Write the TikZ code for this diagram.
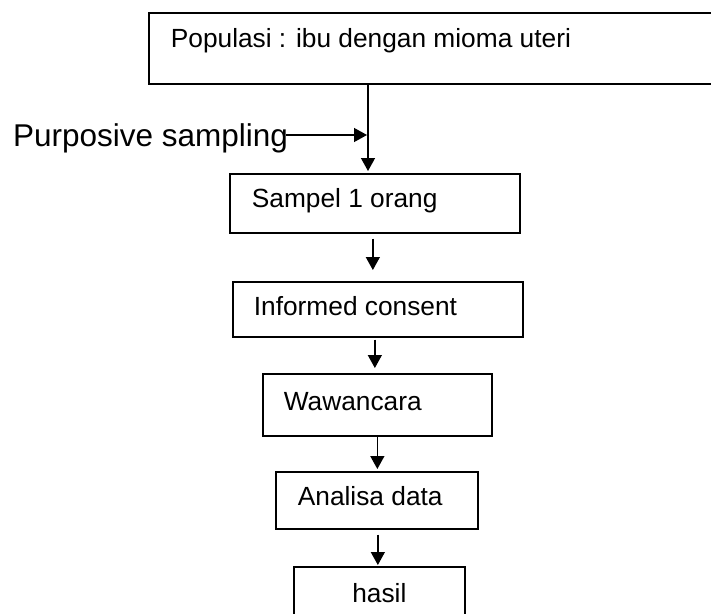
\documentclass[tikz,border=0pt]{standalone}
\usepackage{fontspec}
\setmainfont{Liberation Sans}
\usetikzlibrary{arrows.meta}
\begin{document}
\begin{tikzpicture}[x=1pt,y=-1pt,
    box/.style={draw, line width=1.7pt, inner ysep=0pt, inner xsep=22pt, align=flush left,
        anchor=north west, font=\fontsize{26.3}{30}\selectfont},
    arr/.style={line width=1.4pt, -{Triangle[length=13pt,width=14pt]}}]
    \useasboundingbox (0,0) rectangle (711,613);
    %Populasi
    \node[box, text width=521pt, text height=35pt, text depth=36pt] (pop) at (148,12) {Populasi : ibu dengan mioma uteri};
    %Sampling
    \node[anchor=base west, inner sep=0pt, font=\fontsize{31.5}{36}\selectfont] (purp) at (13,146) {Purposive sampling};
    \coordinate (join) at (368,135);
    %Steps
    \node[box, text width=246pt, text height=34pt, text depth=25pt] (samp) at (229,173) {Sampel 1 orang};
    \node[box, inner xsep=21pt, text width=248pt, text height=34pt, text depth=21pt] (inf) at (232,281) {Informed consent};
    \node[box, inner xsep=21pt, text width=187pt, text height=37pt, text depth=25pt] (waw) at (262,373) {Wawancara};
    \node[box, text width=158pt, text height=34pt, text depth=23pt] (ana) at (275,471) {Analisa data};
    \node[box, align=flush center, text width=127pt, text height=36pt, text depth=23pt] (has) at (293,566) {hasil};
    %Arrows
    \draw[arr, shorten >=2pt] (pop.south -| join) -- (samp.north -| join);
    \draw[arr, shorten >=1pt] ([xshift=-2pt]purp.east |- join) -- (join);
    \draw[arr, shorten <=5pt, shorten >=11pt] ([xshift=-2pt]samp.south) -- ([xshift=-2pt]samp.south |- inf.north);
    \draw[arr, shorten <=2pt, shorten >=5pt] ([xshift=-3pt]inf.south) -- ([xshift=-3pt]inf.south |- waw.north);
    \draw[arr, shorten >=2pt] (waw.south) -- (waw.south |- ana.north);
    \draw[arr, shorten <=5pt, shorten >=1pt] ([xshift=1pt]ana.south) -- ([xshift=1pt]ana.south |- has.north);
\end{tikzpicture}
\end{document}
